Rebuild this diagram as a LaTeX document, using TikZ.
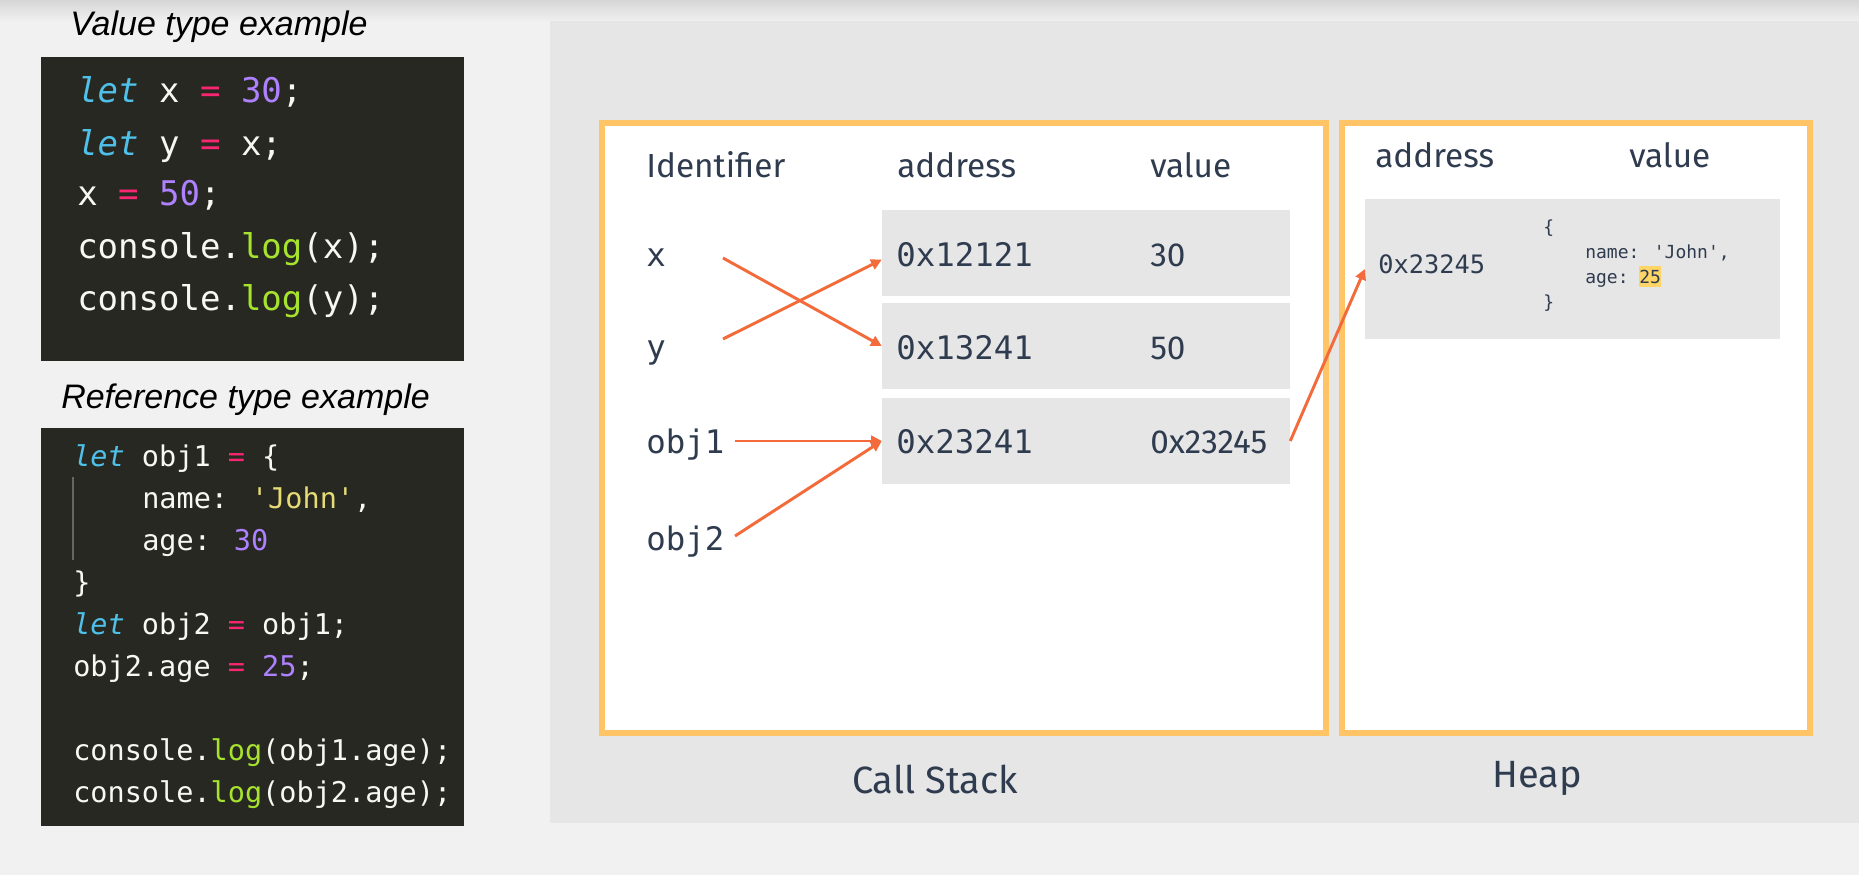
\documentclass[tikz,border=0pt]{standalone}
\usepackage{fontspec}
\setmainfont{Fira Sans}
\newfontfamily\codefont{DejaVu Sans Mono}
\newfontfamily\titlefont{Liberation Sans}
\usetikzlibrary{arrows.meta}

\definecolor{pagebg}{HTML}{F1F1F1}
\definecolor{panelbg}{HTML}{E6E6E6}
\definecolor{cellbg}{HTML}{E6E6E6}
\definecolor{framecol}{HTML}{FFC466}
\definecolor{ptrcol}{HTML}{F36A3B}
\definecolor{inkcol}{HTML}{2F3B4E}
\definecolor{codebg}{HTML}{272822}
\definecolor{codefg}{HTML}{F8F8F2}
\definecolor{kwcol}{HTML}{4FC1E9}
\definecolor{opcol}{HTML}{F92672}
\definecolor{numcol}{HTML}{AE81FF}
\definecolor{fncol}{HTML}{A6E22E}
\definecolor{strcol}{HTML}{E6DB74}
\definecolor{hilite}{HTML}{FFD666}

\newcommand{\jskw}[1]{\textcolor{kwcol}{\textit{#1}}}
\newcommand{\jsop}[1]{\textcolor{opcol}{#1}}
\newcommand{\jsnum}[1]{\textcolor{numcol}{#1}}
\newcommand{\jsfn}[1]{\textcolor{fncol}{#1}}
\newcommand{\jsstr}[1]{\textcolor{strcol}{#1}}

\begin{document}
\begin{tikzpicture}
        [
            x=0.75pt, y=-0.75pt,
            title/.style={anchor=base west, inner sep=0pt, font=\titlefont\itshape\fontsize{25.5}{30}\selectfont},
            code1/.style={anchor=base west, inner sep=0pt, text=codefg, font=\codefont\fontsize{25.5}{30}\selectfont},
            code2/.style={code1, font=\codefont\fontsize{21.4}{26}\selectfont},
            frame/.style={draw=framecol, line width=4.5pt, fill=white, inner sep=0pt},
            cell/.style={fill=cellbg, inner sep=0pt, minimum width=306pt, minimum height=65pt},
            hdr/.style={anchor=base west, inner sep=0pt, text=inkcol, font=\fontsize{25}{30}\selectfont},
            mono/.style={anchor=base west, inner sep=0pt, text=inkcol, font=\codefont\fontsize{24.3}{29}\selectfont},
            objtxt/.style={anchor=base west, inner sep=0pt, text=inkcol, font=\codefont\fontsize{13.5}{16}\selectfont},
            caption/.style={anchor=base, inner sep=0pt, text=inkcol, font=\fontsize{28.5}{34}\selectfont},
            ptr/.style={draw=ptrcol, line width=2.2pt, -{Triangle[length=8pt,width=8pt]}}
        ]
        \useasboundingbox (0,0) rectangle (1859,875);
        %background
        \fill[pagebg] (0,0) rectangle (1859,875);
        \shade[top color=black!16, bottom color=pagebg] (0,0) rectangle (1859,22);
        \fill[panelbg] (550,21) rectangle (1859,823);
        %code samples
        \node[title] (valtitle) at (70,35)  {Value type example};
        \fill[codebg] (41,57) rectangle (464,361);
        \node[code1] (v1) at (77,102) {\jskw{let} x \jsop{=} \jsnum{30};};
        \node[code1] (v2) at (77,155) {\jskw{let} y \jsop{=} x;};
        \node[code1] (v3) at (77,205) {x \jsop{=} \jsnum{50};};
        \node[code1] (v4) at (77,258) {console.\jsfn{log}(x);};
        \node[code1] (v5) at (77,310) {console.\jsfn{log}(y);};
        \node[title] (reftitle) at (61,408) {Reference type example};
        \fill[codebg] (41,428) rectangle (464,826);
        \draw[black!60, line width=0.8pt] (73,477) -- (73,560);
        \node[code2] (r1) at (73,466)  {\jskw{let} obj1 \jsop{=} \{};
        \node[code2] (r2) at (142,508) {name: \jsstr{\textquotesingle John\textquotesingle},};
        \node[code2] (r3) at (142,550) {age: \jsnum{30}};
        \node[code2] (r4) at (73,592)  {\}};
        \node[code2] (r5) at (73,634)  {\jskw{let} obj2 \jsop{=} obj1;};
        \node[code2] (r6) at (73,676)  {obj2.age \jsop{=} \jsnum{25};};
        \node[code2] (r7) at (73,760)  {console.\jsfn{log}(obj1.age);};
        \node[code2] (r8) at (73,802)  {console.\jsfn{log}(obj2.age);};
        %call stack
        \node[frame, minimum width=543pt, minimum height=457.5pt] (stack) at (964,428) {};
        \node[hdr] (hid)   at (646,177)  {Identifier};
        \node[hdr] (haddr) at (897,177)  {address};
        \node[hdr] (hval)  at (1150,177) {value};
        \node[cell] (row1) at (1086,253) {};
        \node[cell] (row2) at (1086,346) {};
        \node[cell] (row3) at (1086,441) {};
        \node[mono] (idx)  at (646,266) {x};
        \node[mono] (idy)  at (646,358) {y};
        \node[mono] (ido1) at (646,453) {obj1};
        \node[mono] (ido2) at (646,550) {obj2};
        \node[mono] (a1) at (896,266) {0x12121};
        \node[mono] (a2) at (896,359) {0x13241};
        \node[mono] (a3) at (896,453) {0x23241};
        \node[hdr] (val1) at (1150,266) {30};
        \node[hdr] (val2) at (1150,359) {50};
        \node[hdr] (val3) at (1150,453) {0x23245};
        \node[caption] (stackcap) at (935,793) {Call Stack};
        %heap
        \node[frame, minimum width=351pt, minimum height=457.5pt] (heap) at (1576,428) {};
        \node[hdr] (hhaddr) at (1375,167) {address};
        \node[hdr] (hhval)  at (1629,167) {value};
        \node[cell, minimum width=311pt, minimum height=105pt] (hcell) at (1572.5,269) {};
        \node[mono, font=\codefont\fontsize{19}{23}\selectfont] (ha) at (1378,273) {0x23245};
        \node[objtxt] (ob1) at (1543,233) {\{};
        \node[objtxt] (ob2) at (1585,258) {name: \textquotesingle John\textquotesingle,};
        \node[objtxt] (ob3) at (1585,283) {age:};
        \node[objtxt, fill=hilite, inner ysep=2.5pt] (ob4) at (1639,283) {25};
        \node[objtxt] (ob5) at (1543,308) {\}};
        \node[caption] (heapcap) at (1537,787) {Heap};
        %pointers
        \coordinate (xout)  at (723,258);
        \coordinate (yout)  at (723,339);
        \coordinate (o1out) at (735,441);
        \coordinate (o2out) at (735,536);
        \draw[ptr] (xout) -- (row2.west);
        \draw[ptr] (yout) -- ([yshift=-5pt]row1.west);
        \draw[ptr] (o1out) -- (row3.west);
        \draw[ptr] (o2out) -- (row3.west);
        \draw[ptr] (row3.east) -- (hcell.west);
    \end{tikzpicture}
\end{document}
